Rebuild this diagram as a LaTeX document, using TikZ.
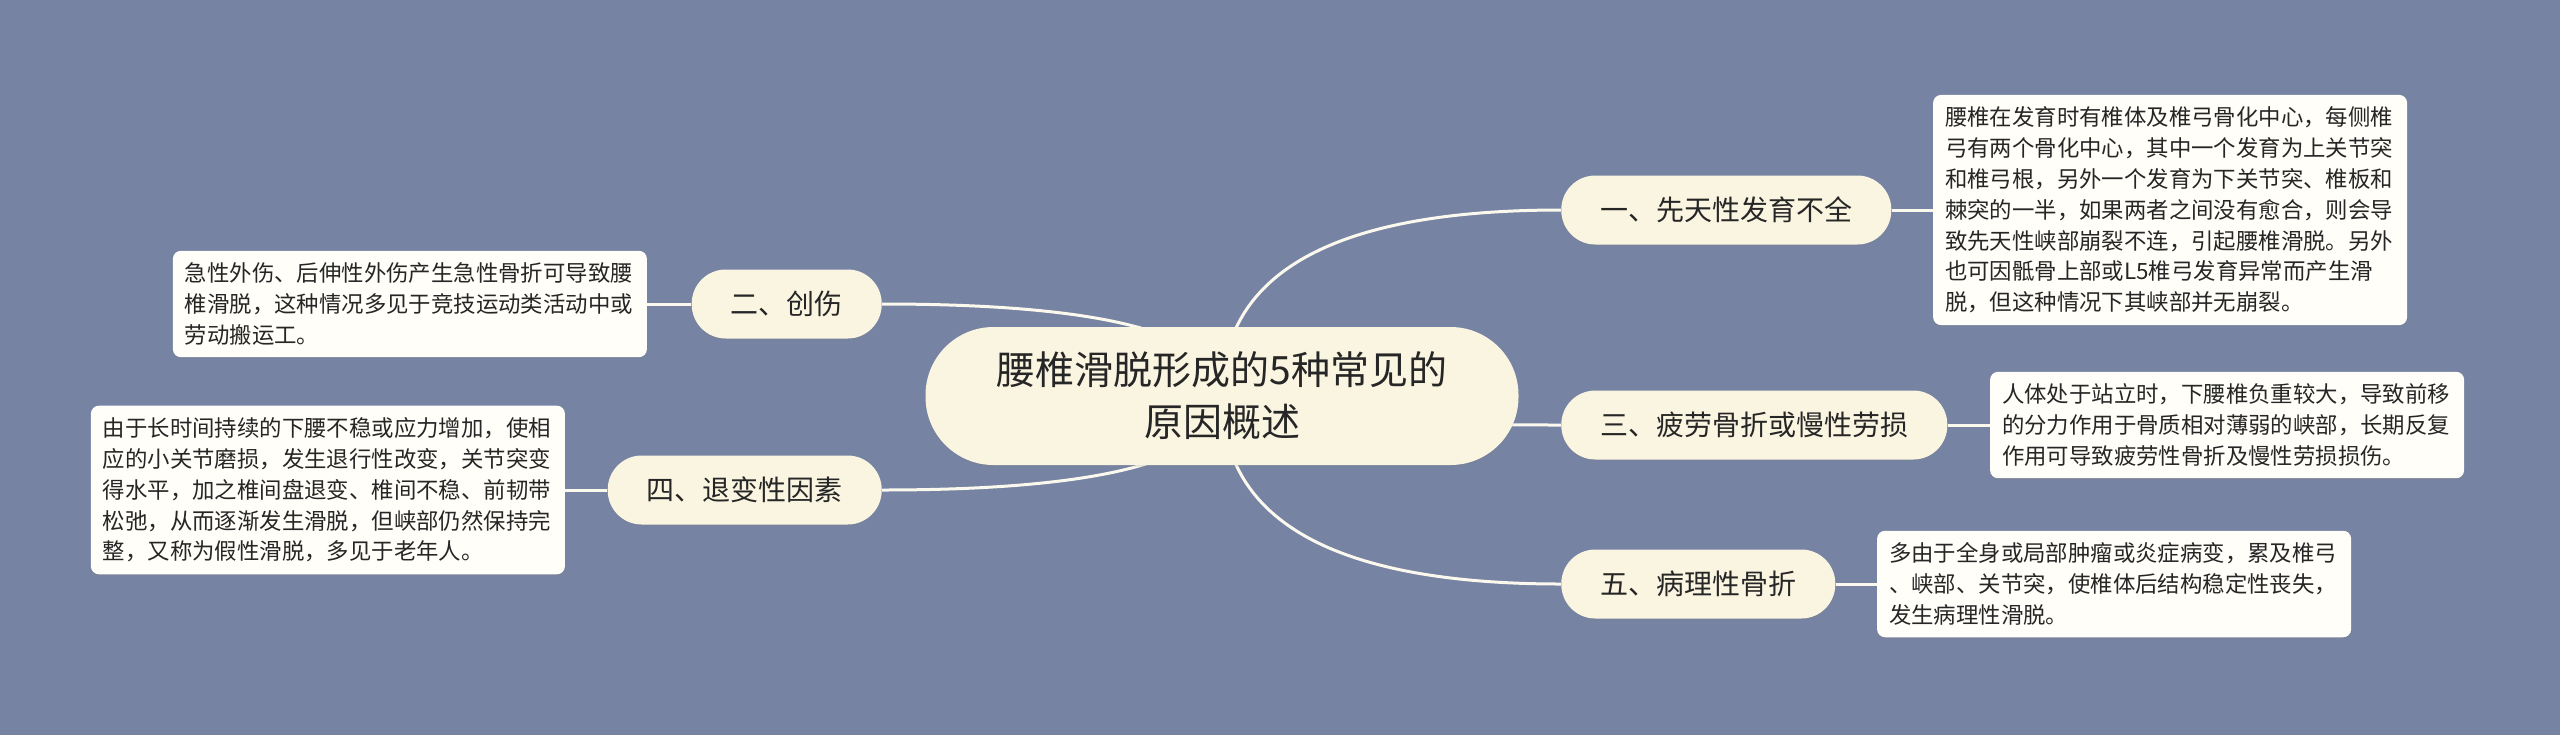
\documentclass[tikz,border=0pt]{standalone}
\usepackage{fontspec}
\setmainfont{Noto Sans CJK SC}
\usetikzlibrary{positioning,calc,shadows}

\definecolor{bgblue}{HTML}{7683A3}
\definecolor{cream}{HTML}{FAF5E1}
\definecolor{paper}{HTML}{FFFEF8}
\definecolor{linkline}{HTML}{FBF8EE}
\definecolor{ink}{HTML}{262626}

\pgfdeclarelayer{back}
\pgfdeclarelayer{links}
\pgfsetlayers{back,links,main}

\tikzset{
	rootbox/.style={fill=cream, rounded corners=34pt, minimum height=69pt, minimum width=296.5pt,
		align=center, text=ink, font=\fontsize{19.5}{26}\selectfont,
		drop shadow={shadow xshift=0pt, shadow yshift=-0.8pt, opacity=0.18}},
	topic/.style={fill=cream, rounded corners=17pt, minimum height=34.5pt, inner xsep=19.5pt,
		text=ink, font=\fontsize{14}{17}\selectfont,
		drop shadow={shadow xshift=0pt, shadow yshift=-0.8pt, opacity=0.18}},
	note/.style={fill=paper, rounded corners=4pt, text width=225pt, inner xsep=6pt, inner ysep=6pt,
		align=left, text=ink, font=\fontsize{11.2}{15.4}\selectfont,
		drop shadow={shadow xshift=0pt, shadow yshift=-0.8pt, opacity=0.2}},
	link/.style={draw=linkline, line width=1.5pt},
	curve/.style={to path={.. controls ($(\tikztostart)!2/3!(\tikztostart |- \tikztotarget)$)
		and ($(\tikztotarget)!2/3!(\tikztostart |- \tikztotarget)$) .. (\tikztotarget)}}
}

\begin{document}
\begin{tikzpicture}[x=0.5pt,y=-0.5pt]
	\useasboundingbox (0,0) rectangle (2560,735);
	\begin{pgfonlayer}{back}
		\fill[bgblue] (0,0) rectangle (2560,735);
	\end{pgfonlayer}

	\node(root) [rootbox] at (1222,396) {腰椎滑脱形成的5种常见的\\原因概述};

	\node(one) [topic, right=21pt of root.east, yshift=93pt] {一、先天性发育不全};
	\node(three) [topic, right=21pt of root.east, yshift=-14.5pt] {三、疲劳骨折或慢性劳损};
	\node(five) [topic, right=21pt of root.east, yshift=-94pt] {五、病理性骨折};
	\node(two) [topic, left=21.5pt of root.west, yshift=46pt] {二、创伤};
	\node(four) [topic, left=21.5pt of root.west, yshift=-47pt] {四、退变性因素};

	\node(noteone) [note, right=20.5pt of one] {腰椎在发育时有椎体及椎弓骨化中心，每侧椎\\弓有两个骨化中心，其中一个发育为上关节突\\和椎弓根，另外一个发育为下关节突、椎板和\\棘突的一半，如果两者之间没有愈合，则会导\\致先天性峡部崩裂不连，引起腰椎滑脱。另外\\也可因骶骨上部或L5椎弓发育异常而产生滑\\脱，但这种情况下其峡部并无崩裂。};
	\node(notetwo) [note, left=22pt of two] {急性外伤、后伸性外伤产生急性骨折可导致腰\\椎滑脱，这种情况多见于竞技运动类活动中或\\劳动搬运工。};
	\node(notethree) [note, right=21pt of three] {人体处于站立时，下腰椎负重较大，导致前移\\的分力作用于骨质相对薄弱的峡部，长期反复\\作用可导致疲劳性骨折及慢性劳损损伤。};
	\node(notefour) [note, left=21pt of four] {由于长时间持续的下腰不稳或应力增加，使相\\应的小关节磨损，发生退行性改变，关节突变\\得水平，加之椎间盘退变、椎间不稳、前韧带\\松弛，从而逐渐发生滑脱，但峡部仍然保持完\\整，又称为假性滑脱，多见于老年人。};
	\node(notefive) [note, right=20.5pt of five] {多由于全身或局部肿瘤或炎症病变，累及椎弓\\、峡部、关节突，使椎体后结构稳定性丧失，\\发生病理性滑脱。};

	\begin{pgfonlayer}{links}
		\draw[link] (root.center) to[curve] (one.west);
		\draw[link] (root.center) to[curve] (three.west);
		\draw[link] (root.center) to[curve] (five.west);
		\draw[link] (root.center) to[curve] (two.east);
		\draw[link] (root.center) to[curve] (four.east);

		\draw[link] (one) -- (noteone);
		\draw[link] (two) -- (notetwo);
		\draw[link] (three) -- (notethree);
		\draw[link] (four) -- (notefour);
		\draw[link] (five) -- (notefive);
	\end{pgfonlayer}
\end{tikzpicture}
\end{document}
